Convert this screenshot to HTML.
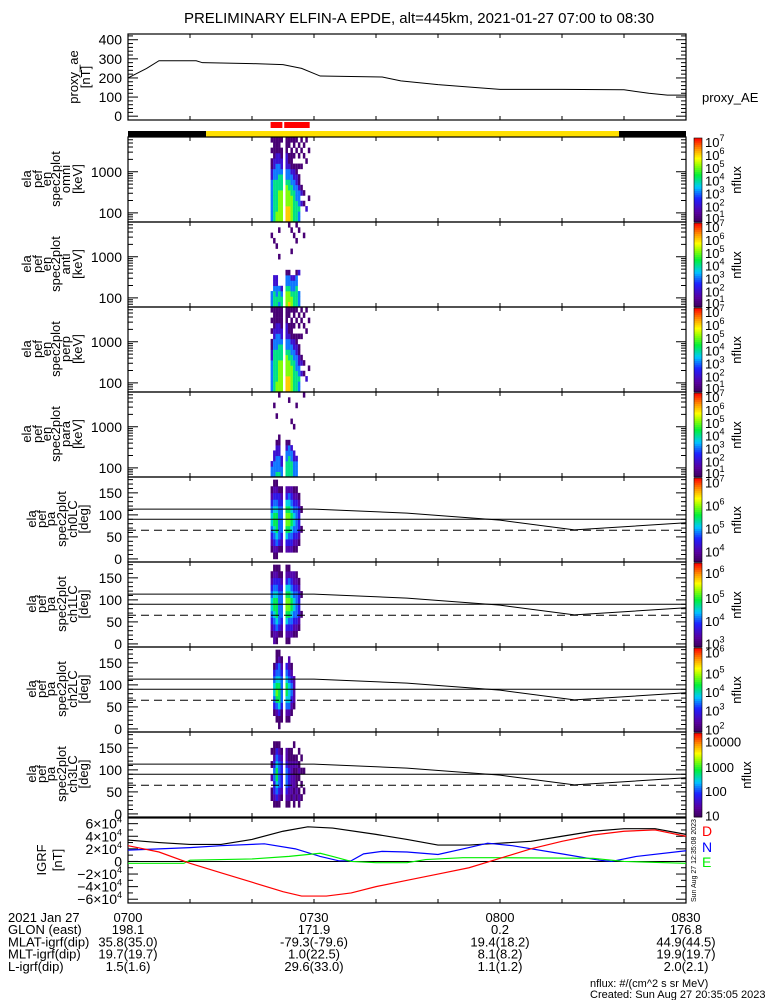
<!DOCTYPE html>
<html><head><meta charset="utf-8"><style>
html,body{margin:0;padding:0;background:#fff;}
svg{display:block;font-family:"Liberation Sans",sans-serif;}
text{fill:#000;}
</style></head><body>
<svg id="c" width="775" height="1000" viewBox="0 0 775 1000" xmlns="http://www.w3.org/2000/svg">
<text x="419" y="23" font-size="15" text-anchor="middle">PRELIMINARY ELFIN-A EPDE, alt=445km, 2021-01-27 07:00 to 08:30</text>
</svg>
<script>
// ---------- data ----------
const aeTimes = [0,3,5,11,12,20,25,28,31,41,44,50,56,60,70,80,84,87,90];
const aeValues = [200,250,290,290,280,275,270,250,210,205,185,165,150,140,140,138,120,110,110];
const specTimes = [23.0,23.4,23.8,24.2,24.6,25.0,25.4,25.8,26.2,26.6,27.0,27.4,27.8,28.2,28.6,29.0,29.4,29.8];
const omniCols = ["3333333322110101","4444444433221111","5544444433322111","5555554443322111","5555554443221101","0000000000000000","6665555433222111","6665554433211011","5555544332111101","4444443322101011","4444333221100101","3343332110101010","0002021000100101","0001010000001010","0020000000010001","0000100000000100","0000000000000000","0000000000000000"];
const antiCols = ["3330000000000100","4443220000001000","4433220000010000","3443000001000010","4432000000000000","0000000000000000","5554331000000000","6554331000000001","5543320000100010","4443320000000100","4444331000001001","3330002000000010","0000000000000000","0000000000000100","0000000000000000","0000000000000000","0000000000000000","0000000000000000"];
const perpCols = ["3333332211010101","4444444433221111","5544444433322111","5555554443322111","5555554443221111","0000000000000000","6665555433222111","6665554433211011","5555544332111101","4444443322101011","4444333221100101","3343322110101010","0002021000100101","0001010000001010","0020000000010001","0000100000000100","0000000000000000","0000000000000000"];
const paraCols = ["3320000000000000","3332200000000100","4333221000010000","4333221100000001","3322000000000000","0000000000000000","4443321000000000","4444331000000010","4443320000100000","3332200001000000","3332000000000100","0000000000000000","0000000000000000","0000000000000001","0000000000000000","0000000000000000","0000000000000000","0000000000000000"];
const lc0Cols = ["012345543210","123456654321","124566654321","013444443310","012344443210","000000000000","023567765320","023467765420","023456654320","012345543210","012344443210","001233332100","000010010000","000000000000","000000000000","000000000000","000000000000","000000000000"];
const lc1Cols = ["012345543210","223456654321","124566654321","013444443311","012344443210","000000000000","123567765321","123467765421","023456654320","012345543220","012344443210","001233332100","000010010000","000000000000","000000000000","000000000000","000000000000","000000000000"];
const lc2Cols = ["000000000000","001345543100","012467654311","113566654421","011344443210","000000000000","012456654300","012455543220","001234432100","000122220000","000000000000","000000000000","000000000000","000000000000","000000000000","000000000000","000000000000","000000000000"];
const lc3Cols = ["001102010100","012334432110","013456654310","012344443210","001233332100","000000000000","012344432200","012233321100","001222221100","012122121010","001211121000","012101210100","001010101000","000100100000","000000000000","000000000000","000000000000","000000000000"];
const lcLineTimes = [0,30,45,60,72,90];
const lcUpperDeg = [113,113,104,88,66,82];
const lcMidDeg = 90;
const lcDashDeg = 65;
const igrfFTimes = [0,5,10,15,20,25,29,33,40,45,50,55,60,65,70,75,80,85,90];
const igrfF = [3.4,3.0,2.7,2.7,3.5,4.8,5.5,5.3,4.3,3.5,2.6,2.6,2.9,3.2,4.0,4.8,5.2,5.2,4.3];
const igrfDTimes = [0,5,10,15,20,25,28,32,36,40,45,50,55,60,65,70,75,80,85,90];
const igrfD = [2.5,1.5,-0.3,-1.8,-3.3,-4.8,-5.5,-5.5,-5.0,-4.0,-3.0,-2.0,-1.0,0.5,2.0,3.2,4.2,4.8,5.0,4.0];
const igrfNTimes = [0,10,15,22,27,31,34,36,38,41,45,50,55,58,62,70,76,78,82,90];
const igrfN = [1.8,2.2,2.5,2.8,2.0,0.8,0.1,0.1,1.2,1.6,1.5,1.1,2.2,2.9,2.5,1.2,0.2,0,0.8,1.7];
const igrfETimes = [0,9,10,20,26,31,33,36,40,45,48,54,60,75,80,90];
const igrfE = [-0.3,-0.3,0.2,0.4,0.8,1.3,0.8,0,-0.2,-0.2,0.3,0.6,0.6,0.5,0,-0.3];
const xTickLabels = ["0700","0730","0800","0830"];
const xTickTimes = [0,30,60,90];
const glon = ["198.1","171.9","0.2","176.8"];
const mlat = ["35.8(35.0)","-79.3(-79.6)","19.4(18.2)","44.9(44.5)"];
const mlt = ["19.7(19.7)","1.0(22.5)","8.1(8.2)","19.9(19.7)"];
const lval = ["1.5(1.6)","29.6(33.0)","1.1(1.2)","2.0(2.1)"];

// ---------- helpers ----------
const svg=document.getElementById('c');const NS='http://www.w3.org/2000/svg';
function mk(tag,attrs,parent){const e=document.createElementNS(NS,tag);for(const k in attrs)e.setAttribute(k,attrs[k]);(parent||svg).appendChild(e);return e;}
const X0=128,X1=686;
const xs=t=>X0+t*(X1-X0)/90;
const stops=[[0,[60,0,90]],[0.12,[90,0,160]],[0.28,[30,30,255]],[0.42,[0,200,255]],[0.56,[0,240,60]],[0.68,[150,255,0]],[0.76,[255,255,0]],[0.88,[255,140,0]],[1,[255,0,0]]];
function cmap(f){f=Math.max(0,Math.min(1,f));for(let i=1;i<stops.length;i++){if(f<=stops[i][0]){const a=stops[i-1],b=stops[i];const u=(f-a[0])/(b[0]-a[0]);const c=a[1].map((v,j)=>Math.round(v+(b[1][j]-v)*u));return `rgb(${c})`;}}return 'rgb(255,0,0)';}
function vlabel(lines,xsArr,yc,name){const g=mk('g',{});lines.forEach((s,i)=>{const t=mk('text',{x:0,y:0,'font-size':13,'text-anchor':'middle',transform:`translate(${xsArr[i]},${yc}) rotate(-90)`},g);t.textContent=s;});}
function box(top,bot,name){const r=mk('rect',{x:X0,y:top,width:X1-X0,height:bot-top,fill:'none',stroke:'#000','stroke-width':1.2});
 for(let t=10;t<90;t+=10){mk('line',{x1:xs(t),x2:xs(t),y1:top,y2:top+4,stroke:'#000'});mk('line',{x1:xs(t),x2:xs(t),y1:bot,y2:bot-4,stroke:'#000'});}}
function ytick(y,len){mk('line',{x1:X0,x2:X0+len,y1:y,y2:y,stroke:'#000'});mk('line',{x1:X1,x2:X1-len,y1:y,y2:y,stroke:'#000'});}
function ylab(y,s){const t=mk('text',{x:X0-6,y:y+5,'font-size':14,'text-anchor':'end'});t.textContent=s;return t;}

// ---------- AE panel ----------
{const top=34,bot=120,lo=-20,hi=430;const ys=v=>bot-(v-lo)*(bot-top)/(hi-lo);
 box(top,bot,'proxy-ae-panel');
 for(let v=0;v<=420;v+=20)ytick(ys(v),v%100===0?10:5);
 [0,100,200,300,400].forEach(v=>ylab(ys(v),String(v)));
 const p=mk('polyline',{fill:'none',stroke:'#000','stroke-width':1,points:aeTimes.map((t,i)=>xs(t)+','+ys(aeValues[i])).join(' ')});
 
 vlabel(['proxy_ae','[nT]'],[78,90],77,'proxy-ae-y-title');
 const t=mk('text',{x:702,y:102,'font-size':13});t.textContent='proxy_AE';}

// ---------- status bar ----------
{const g=mk('g',{});
 mk('rect',{x:X0,y:131,width:xs(12.6)-X0,height:6,fill:'#000'},g);
 mk('rect',{x:xs(12.6),y:131,width:xs(79.2)-xs(12.6),height:6,fill:'#ffe000'},g);
 mk('rect',{x:xs(79.2),y:131,width:X1-xs(79.2),height:6,fill:'#000'},g);
 mk('rect',{x:xs(23.0),y:122,width:xs(24.9)-xs(23.0),height:6,fill:'#f00'},g);
 mk('rect',{x:xs(25.2),y:122,width:xs(29.3)-xs(25.2),height:6,fill:'#f00'},g);}

// ---------- colorbar ----------
function colorbar(top,bot,lmin,lmax,labels,vals,name){const g=mk('g',{});
 const n=40;for(let i=0;i<n;i++){mk('rect',{x:694,y:bot-(i+1)*(bot-top)/n,width:8,height:(bot-top)/n+0.5,fill:cmap((i+0.5)/n)},g);}
 mk('rect',{x:694,y:top,width:8,height:bot-top,fill:'none',stroke:'#000','stroke-width':0.6},g);
 labels.forEach((s,i)=>{const y=bot-(vals[i]-lmin)/(lmax-lmin)*(bot-top);const t=mk('text',{x:705,y:y+6,'font-size':13},g);
  if(s.indexOf('^')>0){const [b,e]=s.split('^');t.textContent=b;const sp=mk('tspan',{dy:-6,'font-size':9},t);sp.textContent=e;}else t.textContent=s;});
 const t=mk('text',{x:0,y:0,'font-size':13,'text-anchor':'middle',transform:`translate(${labels[0].indexOf('^')>0?741:751},${(top+bot)/2}) rotate(-90)`},g);t.textContent='nflux';}

// ---------- energy spectrogram panels ----------
const eMin=Math.log10(60),eMax=Math.log10(7000),nE=16;
function energyPanel(top,cols,label,name){const bot=top+85;const ys=l=>bot-(l-eMin)*(bot-top)/(eMax-eMin);
 const g=mk('g',{});
 const dw=xs(specTimes[1])-xs(specTimes[0]);
 cols.forEach((s,i)=>{for(let b=0;b<nE;b++){const d=+s[b];if(!d)continue;const l0=eMin+b*(eMax-eMin)/nE,l1=eMin+(b+1)*(eMax-eMin)/nE;
  mk('rect',{x:xs(specTimes[i]),y:ys(l1),width:dw,height:ys(l0)-ys(l1)+0.3,fill:cmap((d-0.7)/6.5)},g);}});
 box(top,bot,name+'-panel');
 for(let dec=1;dec<=3;dec++)for(let m=1;m<10;m++){const l=dec+Math.log10(m);if(l<eMin||l>eMax)continue;ytick(ys(l),m===1?10:5);}
 ylab(ys(3),'1000');ylab(ys(2),'100');
 vlabel(['ela','pef','en','spec2plot',label,'[keV]'],[31,42,51,60,70,82],top+42,name+'-y-title');
 colorbar(top+1,bot,0.7,7.25,['10^7','10^6','10^5','10^4','10^3','10^2','10^1'],[7,6,5,4,3,2,1.1],name+'-colorbar');}
energyPanel(137,omniCols,'omni','omni');
energyPanel(222,antiCols,'anti','anti');
energyPanel(307,perpCols,'perp','perp');
energyPanel(392,paraCols,'para','para');

// ---------- pitch-angle panels ----------
function paPanel(top,cols,label,name,cb){const bot=top+85;const lo=-7,hi=186;const ys=v=>bot-(v-lo)*(bot-top)/(hi-lo);
 const g=mk('g',{});
 const dw=xs(specTimes[1])-xs(specTimes[0]);
 cols.forEach((s,i)=>{for(let b=0;b<12;b++){const d=+s[b];if(!d)continue;mk('rect',{x:xs(specTimes[i]),y:ys((b+1)*15),width:dw,height:ys(b*15)-ys((b+1)*15)+0.3,fill:cmap((d-0.6)/10)},g);}});
 box(top,bot,name+'-panel');
 for(let v=0;v<=180;v+=10)ytick(ys(v),v%50===0?10:5);
 [0,50,100,150].forEach(v=>ylab(ys(v),String(v)));
 const u=mk('polyline',{fill:'none',stroke:'#000','stroke-width':1,points:lcLineTimes.map((t,i)=>xs(t)+','+ys(lcUpperDeg[i])).join(' ')});
 
 const m=mk('line',{x1:X0,x2:X1,y1:ys(lcMidDeg),y2:ys(lcMidDeg),stroke:'#000','stroke-width':1});
 const dl=mk('line',{x1:X0,x2:X1,y1:ys(lcDashDeg),y2:ys(lcDashDeg),stroke:'#000','stroke-width':1,'stroke-dasharray':'8,5'});
 vlabel(['ela','pef','pa','spec2plot',label,'[deg]'],[36,46,55,66,77,88],top+42,name+'-y-title');
 colorbar(top+1,bot,cb[0],cb[1],cb[2],cb[3],name+'-colorbar');}
paPanel(477,lc0Cols,'ch0LC','ch0lc',[3.5,7.15,['10^7','10^6','10^5','10^4'],[7,6,5,4]]);
paPanel(562,lc1Cols,'ch1LC','ch1lc',[2.8,6.5,['10^6','10^5','10^4','10^3'],[6.1,5,4,3]]);
paPanel(647,lc2Cols,'ch2LC','ch2lc',[1.8,6.3,['10^6','10^5','10^4','10^3','10^2'],[6.1,5,4,3,2]]);
paPanel(732,lc3Cols,'ch3LC','ch3lc',[0.9,4.35,['10000','1000','100','10'],[4.05,3,2,1]]);

// ---------- IGRF panel ----------
{const top=818,bot=903,lo=-6.6,hi=6.9;const ys=v=>bot-(v-lo)*(bot-top)/(hi-lo);
 box(top,bot,'igrf-panel');
 for(let v=-6;v<=6;v+=1)ytick(ys(v),v%2===0?10:5);
 [6,4,2,0,-2,-4,-6].forEach(v=>{const t=ylab(ys(v),v===0?'0':(v<0?'−':'')+Math.abs(v)+'×10');if(v!==0){const sp=mk('tspan',{dy:-6,'font-size':9},t);sp.textContent='4';}});
 mk('line',{x1:X0,x2:X1,y1:ys(0),y2:ys(0),stroke:'#000'});
 [[igrfFTimes,igrfF,'#000','igrf-total-line'],[igrfNTimes,igrfN,'#0000ff','igrf-n-line'],[igrfETimes,igrfE,'#00ee00','igrf-e-line'],[igrfDTimes,igrfD,'#ff0000','igrf-d-line']].forEach(([tt,arr,c,n])=>{
  const p=mk('polyline',{fill:'none',stroke:c,'stroke-width':1.2,points:tt.map((t,i)=>xs(t)+','+ys(arr[i])).join(' ')});});
 vlabel(['IGRF','[nT]'],[46,62],860,'igrf-y-title');
 [['D','#ff0000',836],['N','#0000ff',852],['E','#00ee00',867]].forEach(([s,c,y])=>{const t=mk('text',{x:702,y:y,'font-size':14,fill:c});t.style.fill=c;t.textContent=s;});
 const st=mk('text',{x:0,y:0,'font-size':7,transform:'translate(696,902) rotate(-90)'});st.textContent='Sun Aug 27 12:35:08 2023';}

// ---------- bottom annotation ----------
{const rows=[['2021 Jan 27',xTickLabels],['GLON (east)',glon],['MLAT-igrf(dip)',mlat],['MLT-igrf(dip)',mlt],['L-igrf(dip)',lval]];
 rows.forEach(([lab,vals],r)=>{const y=922+r*12.2;const t=mk('text',{x:8,y:y,'font-size':13});t.textContent=lab;
  vals.forEach((v,i)=>{const tt=mk('text',{x:xs(xTickTimes[i]),y:y,'font-size':13,'text-anchor':'middle'});tt.textContent=v;});});
 const a=mk('text',{x:590,y:987,'font-size':11});a.textContent='nflux: #/(cm^2 s sr MeV)';
 const b=mk('text',{x:590,y:998,'font-size':11});b.textContent='Created: Sun Aug 27 20:35:05 2023';}
</script>
</body></html>
